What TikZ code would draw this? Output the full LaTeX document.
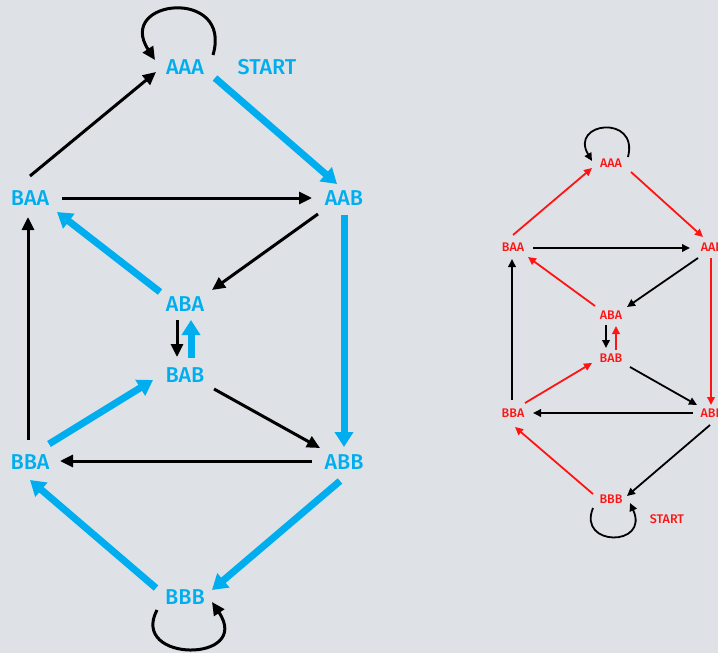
\documentclass[tikz,border=0pt]{standalone}
\usepackage{fontspec}
\setmainfont{Fira Sans Medium}
\usetikzlibrary{arrows.meta}
\definecolor{bgcol}{HTML}{DEE2E6}
\definecolor{cyanlbl}{HTML}{00AEEF}
\definecolor{redlbl}{HTML}{FF1414}

\begin{document}
\begin{tikzpicture}[x=1pt, y=-1pt,
    bigname/.style={text=cyanlbl, font=\fontsize{21.5}{21.5}\selectfont, inner sep=0pt},
    smallname/.style={text=redlbl, font=\fontsize{12.5}{12.5}\selectfont, inner sep=0pt},
    blk/.style={line width=3pt, -{Triangle[length=13pt,width=12pt]}},
    blu/.style={cyanlbl, line width=7pt, -{Triangle[length=15pt,width=18pt]}},
    tblk/.style={line width=1.8pt, -{Triangle[length=8pt,width=7.5pt]}},
    tred/.style={redlbl, line width=1.8pt, -{Triangle[length=8pt,width=7.5pt]}}]
    \fill[bgcol] (0,0) rectangle (718,653);
    \clip (0,0) rectangle (718,653);

    % Big graph
    \node[bigname] (lAAA) at (185,67) {AAA};
    \node[bigname] (lstart) at (267,67) {START};
    \node[bigname] (lBAA) at (30,198) {BAA};
    \node[bigname] (lAAB) at (344,198) {AAB};
    \node[bigname] (lABA) at (185,304) {ABA};
    \node[bigname] (lBAB) at (185,375) {BAB};
    \node[bigname] (lBBA) at (30,462) {BBA};
    \node[bigname] (lABB) at (344,462) {ABB};
    \node[bigname] (lBBB) at (185,597) {BBB};

    \draw[blk] ([shift={(0,-22)}]lBAA.center) -- ([shift={(-29,5)}]lAAA.center);
    \draw[blu] ([shift={(30,11)}]lAAA.center) -- ([shift={(-7,-14)}]lAAB.center);
    \draw[blk] ([shift={(32,0)}]lBAA.center) -- ([shift={(-32,0)}]lAAB.center);
    \draw[blk] ([shift={(-26,16)}]lAAB.center) -- ([shift={(27,-14)}]lABA.center);
    \draw[blu] ([shift={(-25,-12)}]lABA.center) -- ([shift={(27,14)}]lBAA.center);
    \draw[blk] ([shift={(-8,16)}]lABA.center) -- ([shift={(-8,-18)}]lBAB.center);
    \draw[blu] ([shift={(6,-17)}]lBAB.center) -- ([shift={(6,16)}]lABA.center);
    \draw[blu] ([shift={(0,17)}]lAAB.center) -- ([shift={(0,-15)}]lABB.center);
    \draw[blk] ([shift={(29,14)}]lBAB.center) -- ([shift={(-24,-14)}]lABB.center);
    \draw[blu] ([shift={(19,-18)}]lBBA.center) -- ([shift={(-32,5)}]lBAB.center);
    \draw[blk] ([shift={(-32,-1)}]lABB.center) -- ([shift={(30,-1)}]lBBA.center);
    \draw[blk] ([shift={(-2,-22)}]lBBA.center) -- ([shift={(-2,19)}]lBAA.center);
    \draw[blu] ([shift={(-29,-9)}]lBBB.center) -- ([shift={(0,18)}]lBBA.center);
    \draw[blu] ([shift={(-4,19)}]lABB.center) -- ([shift={(27,-7)}]lBBB.center);
    % self loops
    \draw[blk] ([shift={(28,-12)}]lAAA.center) .. controls ([shift={(48,-80)}]lAAA.center) and ([shift={(-70,-68)}]lAAA.center) .. ([shift={(-30,-7)}]lAAA.center);
    \draw[blk] ([shift={(-28,13)}]lBBB.center) .. controls ([shift={(-56,66)}]lBBB.center) and ([shift={(68,66)}]lBBB.center) .. ([shift={(27,5)}]lBBB.center);

    % Small graph
    \node[smallname] (sAAA) at (611,163) {AAA};
    \node[smallname] (sBAA) at (513,247) {BAA};
    \node[smallname] (sAAB) at (712,247) {AAB};
    \node[smallname] (sABA) at (611,315) {ABA};
    \node[smallname] (sBAB) at (611,358) {BAB};
    \node[smallname] (sBBA) at (513,413) {BBA};
    \node[smallname] (sABB) at (712,413) {ABB};
    \node[smallname] (sBBB) at (611,499) {BBB};
    \node[smallname] (sstart) at (667,519) {START};

    \draw[tred] ([shift={(0,-12)}]sBAA.center) -- ([shift={(-19,5)}]sAAA.center);
    \draw[tred] ([shift={(20,9)}]sAAA.center) -- ([shift={(-9,-10)}]sAAB.center);
    \draw[tblk] ([shift={(20,1)}]sBAA.center) -- ([shift={(-22,1)}]sAAB.center);
    \draw[tblk] ([shift={(-14,11)}]sAAB.center) -- ([shift={(16,-8)}]sABA.center);
    \draw[tred] ([shift={(-16,-9)}]sABA.center) -- ([shift={(15,10)}]sBAA.center);
    \draw[tblk] ([shift={(-5,10)}]sABA.center) -- ([shift={(-5,-10)}]sBAB.center);
    \draw[tred] ([shift={(5,-8)}]sBAB.center) -- ([shift={(5,11)}]sABA.center);
    \draw[tred] ([shift={(-1,11)}]sAAB.center) -- ([shift={(-1,-8)}]sABB.center);
    \draw[tblk] ([shift={(19,9)}]sBAB.center) -- ([shift={(-15,-8)}]sABB.center);
    \draw[tred] ([shift={(12,-10)}]sBBA.center) -- ([shift={(-19,5)}]sBAB.center);
    \draw[tblk] ([shift={(-19,0)}]sABB.center) -- ([shift={(20,0)}]sBBA.center);
    \draw[tblk] ([shift={(-1,-13)}]sBBA.center) -- ([shift={(-1,12)}]sBAA.center);
    \draw[tred] ([shift={(-18,-5)}]sBBB.center) -- ([shift={(2,14)}]sBBA.center);
    \draw[tblk] ([shift={(-2,12)}]sABB.center) -- ([shift={(16,-3)}]sBBB.center);
    % self loops
    \draw[tblk] ([shift={(17,-6)}]sAAA.center) .. controls ([shift={(28,-49)}]sAAA.center) and ([shift={(-42,-41)}]sAAA.center) .. ([shift={(-19,-2)}]sAAA.center);
    \draw[tblk] ([shift={(-18,9)}]sBBB.center) .. controls ([shift={(-34,48)}]sBBB.center) and ([shift={(39,48)}]sBBB.center) .. ([shift={(19,4)}]sBBB.center);
\end{tikzpicture}
\end{document}
